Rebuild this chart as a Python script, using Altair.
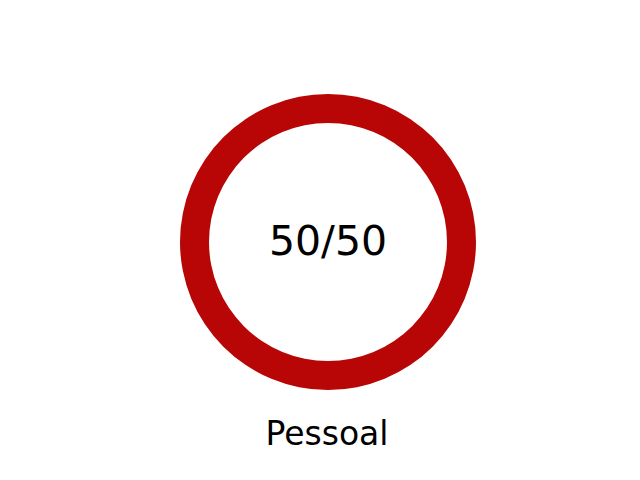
import altair as alt
import pandas as pd

# Values
category = ["Pessoal"]
done = [50]
total = [50]

ring_data = pd.DataFrame({"category": category, "done": done, "total": total})
ring_data["label"] = ring_data["done"].astype(str) + "/" + ring_data["total"].astype(str)

base = alt.Chart(ring_data)

# Progress ring, full circle when done == total
ring = base.mark_arc(innerRadius=119, outerRadius=148, color="#B80606").encode(
    theta=alt.Theta("done:Q", scale=alt.Scale(domain=[0, total[0]])),
    x=alt.value(320),
    y=alt.value(234),
)

center_text = base.mark_text(
    font="DejaVu Sans", fontSize=41, color="black", align="center", baseline="alphabetic"
).encode(text="label:N", x=alt.value(320), y=alt.value(247))

caption = base.mark_text(
    font="DejaVu Sans", fontSize=33, color="black", align="center", baseline="alphabetic"
).encode(text="category:N", x=alt.value(319), y=alt.value(437))

chart = (ring + center_text + caption).properties(
    width=624,
    height=464,
    padding=0,
    autosize=alt.AutoSizeParams(type="none"),
).configure_view(stroke=None)

chart.save("out.html", embed_options={"renderer": "svg", "actions": False})
